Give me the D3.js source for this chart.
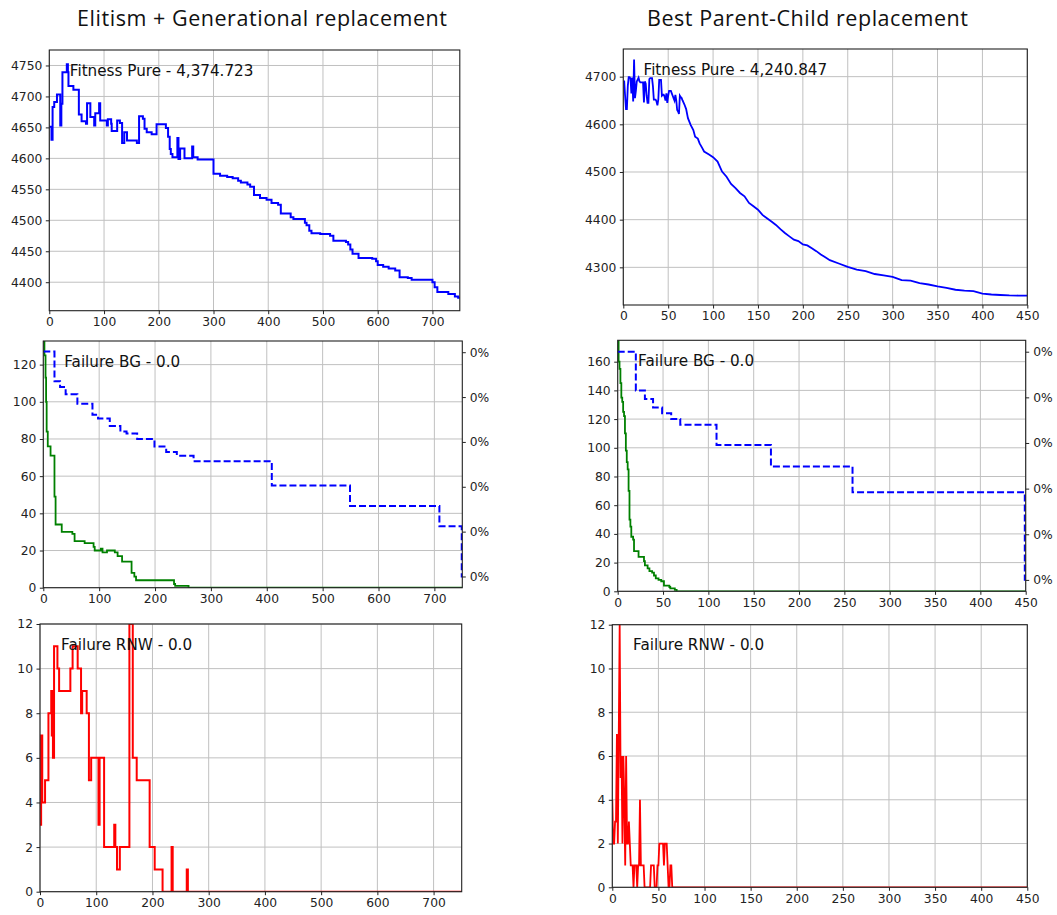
<!DOCTYPE html>
<html>
<head>
<meta charset="utf-8">
<script src="https://cdn.jsdelivr.net/npm/d3@7"></script>
<style>
  html, body { margin: 0; padding: 0; background: #fff; }
  svg { display: block; }
</style>
</head>
<body>
<svg id="chart" width="1057" height="915"></svg>
<script>
// ---- Column titles ----
const columnTitles = ["Elitism + Generational replacement", "Best Parent-Child replacement"];

// ---- Fitness (pure) per generation ----
const fitnessElitism = [
  [0,4651],[4,4630],[6,4683],[9,4691],[14,4703],[20,4653],[22,4688],[24,4739],[32,4752],[34,4739],
  [35,4717],[44,4711],[54,4671],[59,4660],[67,4656],[69,4689],[75,4667],[82,4653],[84,4673],[91,4689],
  [93,4661],[105,4653],[107,4663],[113,4656],[114,4644],[124,4661],[129,4657],[133,4625],[137,4642],[142,4629],
  [160,4625],[164,4668],[171,4664],[174,4648],[178,4642],[187,4639],[196,4655],[213,4649],[217,4635],[220,4615],
  [222,4607],[225,4602],[234,4633],[236,4599],[239,4616],[247,4600],[261,4619],[263,4602],[271,4598],[300,4575],
  [312,4572],[325,4570],[335,4568],[345,4564],[350,4561],[362,4558],[367,4554],[374,4541],[385,4536],[397,4533],
  [406,4528],[418,4525],[423,4511],[441,4505],[446,4502],[467,4496],[470,4492],[475,4483],[479,4479],[495,4478],
  [513,4475],[519,4467],[542,4465],[546,4461],[550,4453],[554,4446],[565,4439],[590,4438],[597,4434],[600,4428],
  [610,4425],[620,4422],[632,4419],[640,4408],[655,4407],[662,4404],[700,4400],[704,4392],[709,4384],[729,4381],
  [741,4377],[747,4374.723],[750,4374.723]
];

const fitnessParentChild = [
  [0,4690],[1,4690],[2,4660],[3,4632],[4,4632],[5,4680],[6,4699],[7,4699],[8,4696],[9,4665],
  [10,4698],[11,4648],[12,4736],[13,4655],[14,4670],[15,4690],[16,4694],[17,4698],[18,4690],[19,4688],
  [20,4688],[21,4688],[22,4688],[23,4646],[24,4690],[25,4685],[26,4660],[27,4645],[28,4645],[29,4695],
  [30,4697],[31,4697],[32,4697],[33,4680],[34,4652],[35,4652],[36,4652],[37,4648],[38,4640],[39,4652],
  [40,4693],[41,4693],[42,4693],[43,4660],[44,4662],[45,4662],[46,4658],[47,4650],[48,4665],[49,4645],
  [50,4660],[51,4670],[52,4670],[53,4670],[54,4665],[55,4660],[56,4655],[57,4650],[58,4662],[59,4650],
  [60,4630],[61,4627],[62,4622],[63,4660],[64,4657],[65,4655],[66,4650],[68,4642],[70,4632],[72,4613],
  [75,4599],[78,4588],[80,4574],[83,4570],[85,4560],[88,4550],[90,4543],[95,4537],[100,4531],[105,4522],
  [110,4501],[115,4490],[120,4475],[125,4466],[130,4456],[135,4449],[140,4435],[145,4428],[150,4421],[155,4410],
  [160,4403],[165,4396],[170,4389],[175,4380],[180,4372],[185,4365],[190,4358],[195,4355],[200,4348],[205,4346],
  [210,4340],[215,4334],[220,4327],[225,4321],[230,4315],[240,4308],[250,4301],[260,4295],[270,4292],[280,4286],
  [290,4283],[300,4280],[310,4273],[320,4272],[330,4267],[340,4264],[350,4260],[360,4257],[370,4253],[380,4251],
  [390,4250],[400,4245],[410,4243],[420,4242],[430,4241],[440,4240.847],[450,4240.847]
];

// ---- Failure BG (solid) and best-so-far trace (dashed) ----
const failureBGElitism = [
  [0,140],[2,125],[4,113],[5,100],[6,84],[8,76],[13,71],[20,49],[22,34],[33,30],
  [52,29],[56,25],[74,24],[90,22],[92,20],[103,21],[106,19],[114,20],[128,19],[133,17],
  [141,14],[158,8],[163,6],[166,4],[234,2],[236,1],[260,0],[750,0]
];
const bgTraceElitism = [
  [0,127],[20,111],[30,108],[40,104],[61,99],[88,93],[98,91],[119,87],[138,84],[149,83],
  [168,80],[199,76],[220,73],[239,71],[269,68],[409,55],[549,44],[709,33],[749,6],[750,6]
];

const failureBGParentChild = [
  [0,175],[1,160],[2,155],[3,145],[4,135],[5,132],[6,125],[7,122],[8,110],[9,98],
  [10,90],[11,85],[12,70],[13,50],[14,45],[15,38],[17,36],[18,28],[23,24],[29,21],
  [30,18],[33,16],[35,14],[38,13],[40,11],[42,9],[45,8],[48,7],[51,4],[57,3],
  [58,2],[63,1],[65,0],[450,0]
];
const bgTraceParentChild = [
  [0,167],[20,140],[30,134],[39,128],[49,124],[59,120],[69,116],[109,102],[169,87],[259,69],
  [449,8],[450,8]
];

// ---- Failure RNW ----
const failureRNWElitism = [
  [0,3],[2,7],[4,4],[9,5],[15,8],[20,9],[21,7],[22,9],[23,6],[25,11],
  [31,10],[34,9],[54,10],[58,11],[67,10],[73,8],[75,9],[83,8],[87,5],[91,6],
  [104,3],[106,6],[114,2],[132,3],[134,2],[137,1],[142,2],[159,12],[165,6],[172,5],
  [195,2],[204,1],[218,0],[234,2],[236,0],[261,1],[263,0],[750,0]
];
const failureRNWParentChild = [
  [0,4],[1,2],[2,2],[3,3],[4,3],[5,7],[6,2],[7,7],[8,12],[9,5],
  [10,6],[11,2],[12,6],[13,4],[14,1],[15,6],[16,2],[17,2],[18,3],[19,2],
  [20,1],[21,1],[22,1],[23,0],[24,1],[25,1],[26,1],[27,0],[28,1],[29,1],
  [30,4],[31,1],[32,1],[33,1],[34,1],[35,0],[41,0],[42,1],[43,1],[44,1],
  [45,1],[46,0],[48,0],[49,1],[50,1],[51,2],[52,2],[53,2],[54,2],[55,2],
  [56,1],[57,2],[58,2],[59,2],[60,1],[61,0],[62,0],[63,1],[64,1],[65,0],[450,0]
];

// ---- Axis ticks ----
const ticksGenLong = [0,100,200,300,400,500,600,700];
const ticksGenShort = [0,50,100,150,200,250,300,350,400,450];
const ticksFitElitism = [4400,4450,4500,4550,4600,4650,4700,4750];
const ticksFitParentChild = [4300,4400,4500,4600,4700];
const ticksBGElitism = [0,20,40,60,80,100,120];
const ticksBGParentChild = [0,20,40,60,80,100,120,140,160];
const ticksRNW = [0,2,4,6,8,10,12];
// secondary (share) axis: fractions well below 1%
const ticksShare = [0,0.0008,0.0016,0.0024,0.0032,0.004];
const shareDomain = [-0.0002, 0.0042];

const svg = d3.select("#chart");
const tickFont = "DejaVu Sans, Verdana, sans-serif";
const fmtTick = d3.format("d");
const fmtFit = d3.format(",.3f");
const fmtFail = d3.format(".1f");
const fmtPct = d3.format(".0%");

// Column headings
const titleLayout = [{ cx: 262, w: 370 }, { cx: 807.5, w: 321 }];
svg.selectAll("text.coltitle")
  .data(columnTitles)
  .join("text")
  .attr("class", "coltitle")
  .attr("x", (d, i) => titleLayout[i].cx)
  .attr("y", 26)
  .attr("text-anchor", "middle")
  .attr("font-family", "Open Sans, Liberation Sans, sans-serif")
  .attr("font-size", 21.5)
  .attr("textLength", (d, i) => titleLayout[i].w)
  .attr("lengthAdjust", "spacing")
  .attr("fill", "#111")
  .text(d => d);

let clipId = 0;

function panel(cfg) {
  const { box, xDomain, yDomain, xTicks, yTicks, series, label, rightAxis } = cfg;
  const x = d3.scaleLinear().domain(xDomain).range([box.x0, box.x1]);
  const y = d3.scaleLinear().domain(yDomain).range([box.y1, box.y0]);
  const g = svg.append("g");

  // grid
  g.append("g").selectAll("line").data(xTicks).join("line")
    .attr("x1", d => x(d)).attr("x2", d => x(d))
    .attr("y1", box.y0).attr("y2", box.y1)
    .attr("stroke", "#c0c0c0").attr("stroke-width", 1);
  g.append("g").selectAll("line").data(yTicks).join("line")
    .attr("x1", box.x0).attr("x2", box.x1)
    .attr("y1", d => y(d)).attr("y2", d => y(d))
    .attr("stroke", "#c0c0c0").attr("stroke-width", 1);

  // series
  const id = "clip" + (clipId++);
  svg.append("clipPath").attr("id", id).append("rect")
    .attr("x", box.x0).attr("y", box.y0)
    .attr("width", box.x1 - box.x0).attr("height", box.y1 - box.y0);
  const lines = g.append("g").attr("clip-path", `url(#${id})`);
  series.forEach(s => {
    const line = d3.line()
      .x(d => x(d[0]))
      .y(d => y(d[1]))
      .curve(s.step ? d3.curveStepAfter : d3.curveLinear);
    lines.append("path")
      .datum(s.data)
      .attr("d", line)
      .attr("fill", "none")
      .attr("stroke", s.color)
      .attr("stroke-width", s.width)
      .attr("stroke-dasharray", s.dash || null)
      .attr("stroke-linejoin", "miter")
      .attr("stroke-linecap", "butt");
  });

  // axes
  const ax = g.append("g").attr("transform", `translate(0,${box.y1})`)
    .call(d3.axisBottom(x).tickValues(xTicks).tickFormat(fmtTick).tickSize(3.5).tickPadding(3).tickSizeOuter(0));
  const ay = g.append("g").attr("transform", `translate(${box.x0},0)`)
    .call(d3.axisLeft(y).tickValues(yTicks).tickFormat(fmtTick).tickSize(3.5).tickPadding(3.5).tickSizeOuter(0));
  [ax, ay].forEach(a => {
    a.select(".domain").remove();
    a.selectAll("line").attr("stroke", "#222").attr("stroke-width", 1);
    a.selectAll("text").attr("font-family", tickFont).attr("font-size", 12.3).attr("fill", "#222");
  });

  if (rightAxis) {
    const yr = d3.scaleLinear().domain(shareDomain).range([box.y1, box.y0]);
    const ar = g.append("g").attr("transform", `translate(${box.x1},0)`)
      .call(d3.axisRight(yr).tickValues(ticksShare).tickFormat(fmtPct).tickSize(3.5).tickPadding(4).tickSizeOuter(0));
    ar.select(".domain").remove();
    ar.selectAll("line").attr("stroke", "#222").attr("stroke-width", 1);
    ar.selectAll("text").attr("font-family", tickFont).attr("font-size", 12.3).attr("fill", "#222");
  }

  // frame
  g.append("rect")
    .attr("x", box.x0).attr("y", box.y0)
    .attr("width", box.x1 - box.x0).attr("height", box.y1 - box.y0)
    .attr("fill", "none").attr("stroke", "#222").attr("stroke-width", 1.1);

  // in-plot label
  g.append("text")
    .attr("x", box.x0 + 0.05 * (box.x1 - box.x0))
    .attr("y", box.y0 + 25.5)
    .attr("font-family", tickFont)
    .attr("font-size", 15.2)
    .attr("fill", "#111")
    .text(label);
}

const last = arr => arr[arr.length - 1][1];

panel({
  box: { x0: 49.3, x1: 459.8, y0: 50, y1: 310.7 },
  xDomain: [0, 750], yDomain: [4354, 4775],
  xTicks: ticksGenLong, yTicks: ticksFitElitism,
  series: [{ data: fitnessElitism, color: "#0000ff", width: 2, step: true }],
  label: "Fitness Pure - " + fmtFit(last(fitnessElitism))
});
panel({
  box: { x0: 623.3, x1: 1027.3, y0: 49, y1: 305 },
  xDomain: [0, 450], yDomain: [4221, 4758],
  xTicks: ticksGenShort, yTicks: ticksFitParentChild,
  series: [{ data: fitnessParentChild, color: "#0000ff", width: 1.8, step: false }],
  label: "Fitness Pure - " + fmtFit(last(fitnessParentChild))
});
panel({
  box: { x0: 43.3, x1: 462.3, y0: 341, y1: 587.7 },
  xDomain: [0, 750], yDomain: [0, 132.7],
  xTicks: ticksGenLong, yTicks: ticksBGElitism,
  series: [
    { data: failureBGElitism, color: "#008000", width: 1.8, step: true },
    { data: bgTraceElitism, color: "#0000ff", width: 2, step: true, dash: "7,3" }
  ],
  label: "Failure BG - " + fmtFail(last(failureBGElitism)),
  rightAxis: true
});
panel({
  box: { x0: 617.7, x1: 1025.7, y0: 340.3, y1: 591.3 },
  xDomain: [0, 450], yDomain: [0, 174.9],
  xTicks: ticksGenShort, yTicks: ticksBGParentChild,
  series: [
    { data: failureBGParentChild, color: "#008000", width: 1.8, step: true },
    { data: bgTraceParentChild, color: "#0000ff", width: 2, step: true, dash: "7,3" }
  ],
  label: "Failure BG - " + fmtFail(last(failureBGParentChild)),
  rightAxis: true
});
panel({
  box: { x0: 40, x1: 461.7, y0: 624, y1: 891.7 },
  xDomain: [0, 750], yDomain: [0, 12],
  xTicks: ticksGenLong, yTicks: ticksRNW,
  series: [{ data: failureRNWElitism, color: "#ff0000", width: 2, step: true }],
  label: "Failure RNW - " + fmtFail(last(failureRNWElitism))
});
panel({
  box: { x0: 612.3, x1: 1027.3, y0: 624.7, y1: 887.3 },
  xDomain: [0, 450], yDomain: [0, 12],
  xTicks: ticksGenShort, yTicks: ticksRNW,
  series: [{ data: failureRNWParentChild, color: "#ff0000", width: 1.8, step: false }],
  label: "Failure RNW - " + fmtFail(last(failureRNWParentChild))
});
</script>
</body>
</html>
